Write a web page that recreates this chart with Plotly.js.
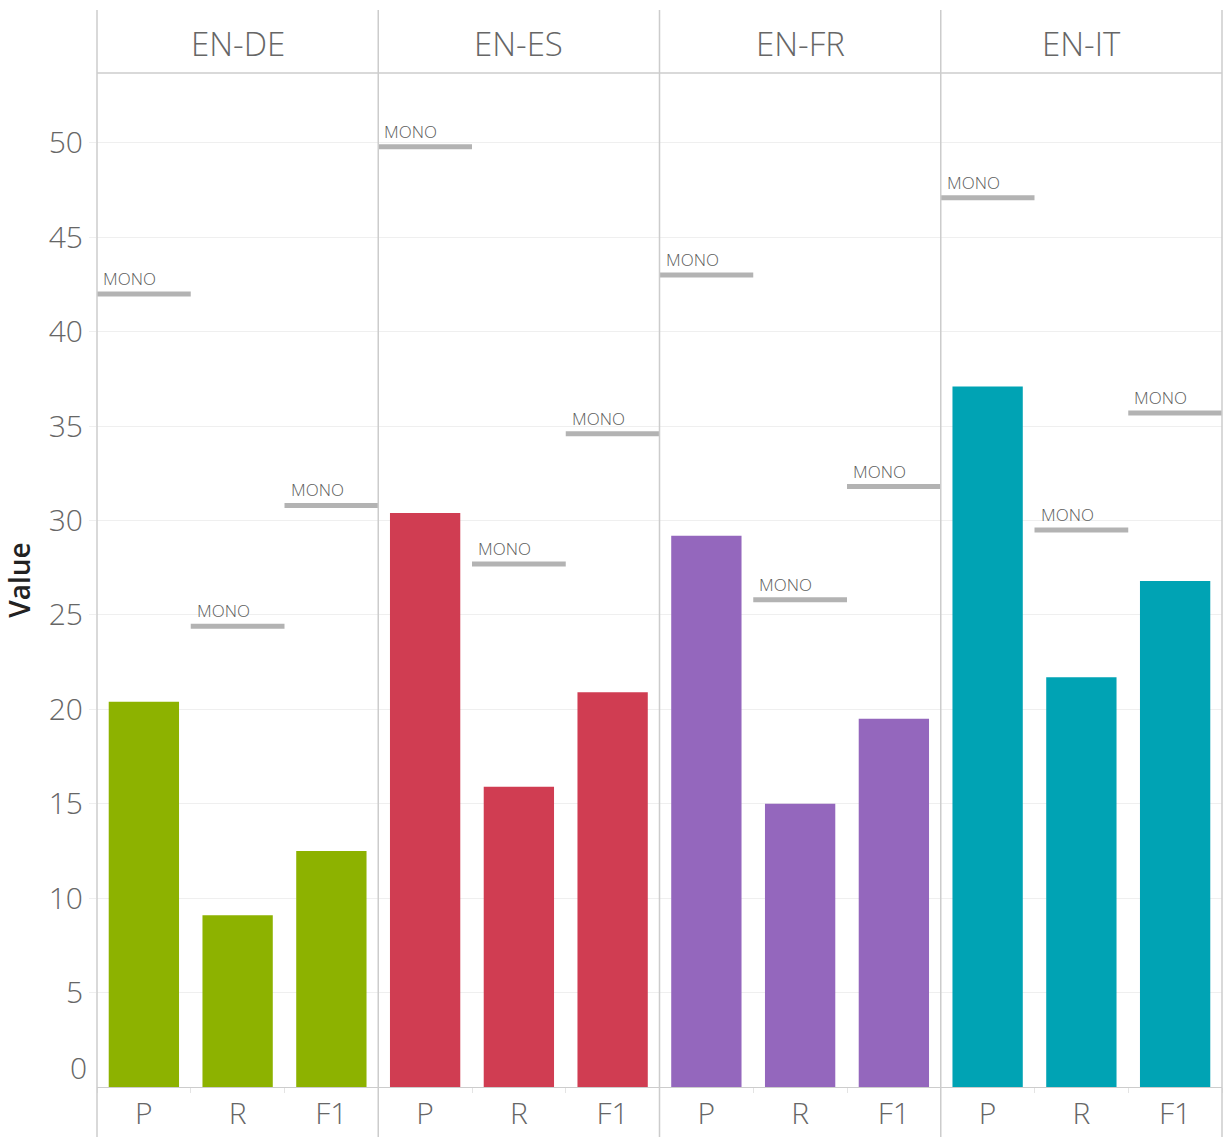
<!DOCTYPE html>
<html>
<head>
<meta charset="utf-8">
<script src="https://cdn.plot.ly/plotly-3.0.1.min.js"></script>
<style>html,body{margin:0;padding:0;background:#fff;}#chart{width:1232px;height:1140px;}</style>
</head>
<body>
<div id="chart"></div>
<script>
const pairs = ["EN-DE", "EN-ES", "EN-FR", "EN-IT"];
const metrics = ["P", "R", "F1"];
const colors = ["#8db200", "#d03d52", "#9467bd", "#00a3b4"];
const valDE = [20.4, 9.1, 12.5];
const valES = [30.4, 15.9, 20.9];
const valFR = [29.2, 15.0, 19.5];
const valIT = [37.1, 21.7, 26.8];
const monoDE = [42.0, 24.4, 30.8];
const monoES = [49.8, 27.7, 34.6];
const monoFR = [43.0, 25.8, 31.8];
const monoIT = [47.1, 29.5, 35.7];
const yTicks = [0, 5, 10, 15, 20, 25, 30, 35, 40, 45, 50];

const values = [valDE, valES, valFR, valIT];
const monos = [monoDE, monoES, monoFR, monoIT];

const FONT = "Open Sans, Lato, sans-serif";
const plotH = 1140 - 73 - 53;
const traces = [];
const shapes = [];
const annotations = [];
const layout = {
  width: 1232, height: 1140,
  margin: {l: 97, r: 10, t: 73, b: 53},
  paper_bgcolor: "#fff", plot_bgcolor: "#fff",
  showlegend: false,
  bargap: 0.25,
  font: {family: FONT, color: "#666"},
  yaxis: {
    range: [0, 53.7],
    tickvals: yTicks.filter(v => v !== 0),
    showgrid: true, gridcolor: "#efefef", gridwidth: 1,
    zeroline: false, showline: false,
    ticks: "outside", ticklen: 7, tickcolor: "#efefef",
    tickfont: {size: 30, color: "#666", family: FONT, weight: 300},
    title: {text: "Value", font: {size: 28, color: "#222", family: FONT, weight: 600}, standoff: 16},
    anchor: "x", fixedrange: true
  },
  shapes: shapes,
  annotations: annotations
};

pairs.forEach((p, i) => {
  const sfx = i === 0 ? "" : String(i + 1);
  traces.push({
    type: "bar", x: metrics, y: values[i],
    xaxis: "x" + sfx, yaxis: "y",
    marker: {color: colors[i], line: {width: 0}},
    hoverinfo: "x+y"
  });
  layout["xaxis" + sfx] = {
    domain: [i / 4, (i + 1) / 4],
    type: "category", categoryorder: "array", categoryarray: metrics,
    range: [-0.5, 2.5], anchor: "y",
    showgrid: false, zeroline: false,
    showline: true, linecolor: "#cccccc", linewidth: 1,
    ticks: "outside", tickson: "boundaries", ticklen: 5, tickcolor: "#e4e4e4",
    tickfont: {size: 30, color: "#666", family: FONT, weight: 300},
    fixedrange: true
  };
  // MONO reference lines and labels
  monos[i].forEach((m, j) => {
    shapes.push({
      type: "line", xref: "x" + sfx, yref: "y",
      x0: j - 0.5, x1: j + 0.5, y0: m, y1: m,
      line: {color: "#b3b3b3", width: 5}
    });
    annotations.push({
      xref: "x" + sfx, yref: "y", x: j - 0.5, y: m,
      text: "MONO", showarrow: false,
      xanchor: "left", yanchor: "bottom", xshift: 4, yshift: 2,
      font: {size: 17, color: "#5c5c5c", family: FONT, weight: 300}
    });
  });
  // facet header title
  annotations.push({
    xref: "paper", yref: "paper", x: (i + 0.5) / 4, y: 1 + 30 / plotH,
    text: p, showarrow: false, xanchor: "center", yanchor: "middle",
    font: {size: 33, color: "#666", family: FONT, weight: 300}
  });
});

// facet frame vertical lines
[0, 0.25, 0.5, 0.75, 1].forEach(xp => {
  shapes.push({
    type: "line", xref: "paper", yref: "paper",
    x0: xp, x1: xp, y0: -50 / plotH, y1: 1 + 63 / plotH,
    line: {color: "#cccccc", width: 1.5}, layer: "above"
  });
});
// header bottom line
shapes.push({
  type: "line", xref: "paper", yref: "paper",
  x0: 0, x1: 1, y0: 1, y1: 1,
  line: {color: "#cccccc", width: 1.5}
});
// zero tick label (sits raised above the axis line)
annotations.push({
  xref: "paper", yref: "y", x: 0, y: 0, text: "0", showarrow: false,
  xanchor: "right", yanchor: "middle", xshift: -8, yshift: 20,
  font: {size: 30, color: "#666", family: FONT, weight: 300}
});

Plotly.newPlot("chart", traces, layout, {displayModeBar: false, staticPlot: true});
</script>
</body>
</html>
